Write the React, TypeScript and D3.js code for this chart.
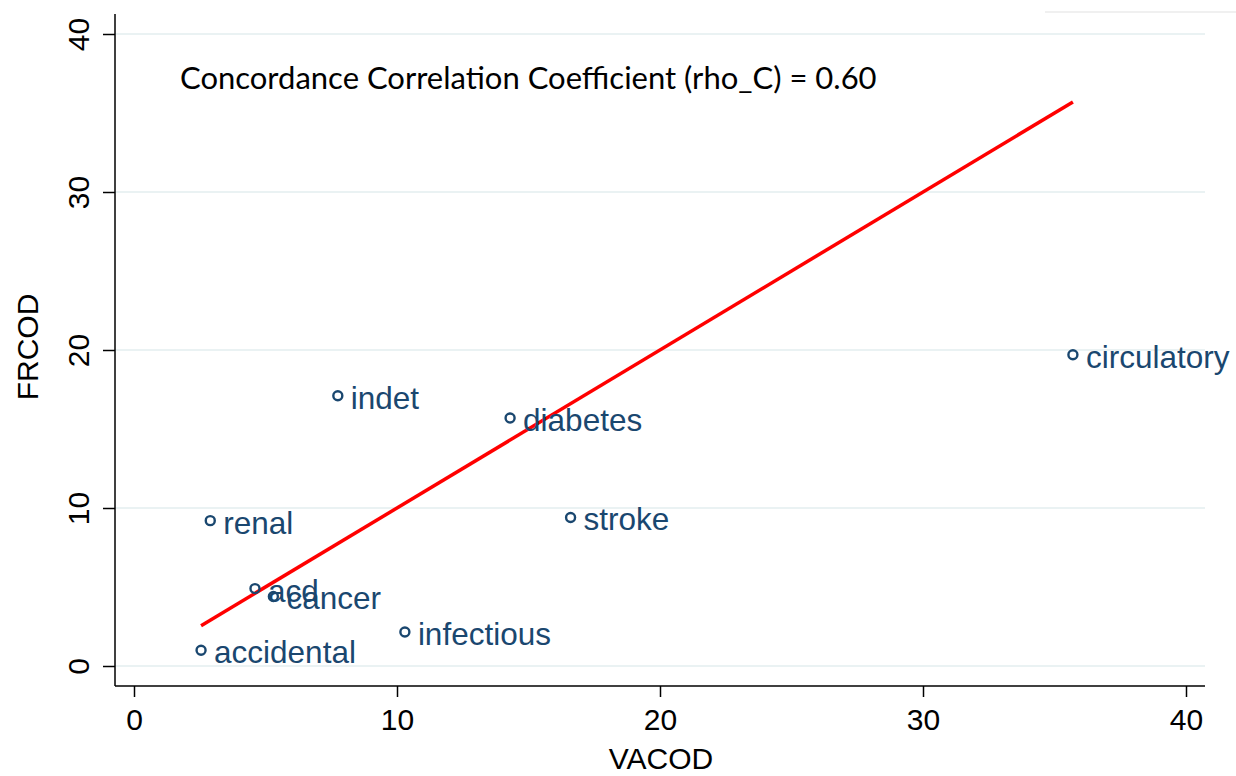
import React, { useRef, useEffect } from 'react';
import { select, scaleLinear, axisBottom, axisLeft, line } from 'd3';

const causes = ['accidental', 'acd', 'cancer', 'renal', 'indet', 'diabetes', 'stroke', 'infectious', 'circulatory'];
const vacod = [2.55, 4.6, 5.3, 2.9, 7.75, 14.3, 16.6, 10.3, 35.7];
const frcod = [1.0, 4.9, 4.4, 9.2, 17.1, 15.7, 9.4, 2.15, 19.7];
const ticks = [0, 10, 20, 30, 40];
const note = 'Concordance Correlation Coefficient (rho_C) = 0.60';

const W = 1236;
const H = 776;
const navy = '#1a476f';
const font = '"Liberation Sans", Arial, sans-serif';

const App = () => {
  const svgRef = useRef(null);

  useEffect(() => {
    const svg = select(svgRef.current);
    svg.selectAll('*').remove();

    const x = scaleLinear().domain([0, 40]).range([134, 1186]);
    const y = scaleLinear().domain([0, 40]).range([666, 34]);
    const left = 115;
    const right = 1205;
    const top = 14;
    const bottom = 686;

    // faint edge at the top right of the original image
    svg
      .append('line')
      .attr('x1', 1045)
      .attr('x2', W)
      .attr('y1', 12)
      .attr('y2', 12)
      .attr('stroke', '#f0f0f0')
      .attr('stroke-width', 2);

    // grid
    svg
      .append('g')
      .selectAll('line')
      .data(ticks)
      .join('line')
      .attr('x1', left)
      .attr('x2', right)
      .attr('y1', (d) => y(d))
      .attr('y2', (d) => y(d))
      .attr('stroke', '#eaf2f3')
      .attr('stroke-width', 2);

    // y axis
    const yAxis = axisLeft(y).tickValues(ticks).tickSize(12).tickSizeOuter(0);
    const gy = svg.append('g').attr('transform', `translate(${left},0)`);
    // @ts-ignore
    gy.call(yAxis);
    gy.select('.domain').remove();
    gy.selectAll('.tick line').attr('stroke', '#000').attr('stroke-width', 1.5);
    gy.selectAll('.tick text')
      .attr('font-size', 30)
      .attr('font-family', font)
      .attr('fill', '#000')
      .attr('text-anchor', 'middle')
      .attr('x', 0)
      .attr('dy', 0)
      .attr('transform', 'translate(-26,0) rotate(-90)');
    gy.append('line')
      .attr('y1', top)
      .attr('y2', bottom)
      .attr('stroke', '#000')
      .attr('stroke-width', 1.5);

    // x axis
    const xAxis = axisBottom(x).tickValues(ticks).tickSize(11).tickSizeOuter(0);
    const gx = svg.append('g').attr('transform', `translate(0,${bottom})`);
    // @ts-ignore
    gx.call(xAxis);
    gx.select('.domain').remove();
    gx.selectAll('.tick line').attr('stroke', '#000').attr('stroke-width', 1.5);
    gx.selectAll('.tick text')
      .attr('font-size', 30)
      .attr('font-family', font)
      .attr('fill', '#000')
      .attr('y', 44)
      .attr('dy', 0);
    gx.append('line')
      .attr('x1', left)
      .attr('x2', right)
      .attr('stroke', '#000')
      .attr('stroke-width', 1.5);

    // axis titles
    svg
      .append('text')
      .attr('x', 661)
      .attr('y', 769)
      .attr('text-anchor', 'middle')
      .attr('font-size', 30)
      .attr('font-family', font)
      .text('VACOD');
    svg
      .append('text')
      .attr('transform', 'translate(38,347) rotate(-90)')
      .attr('text-anchor', 'middle')
      .attr('font-size', 30)
      .attr('font-family', font)
      .text('FRCOD');

    // reference line y = x across the data range
    const lo = Math.min(...vacod);
    const hi = Math.max(...vacod);
    const ref = line<number>()
      .x((d) => x(d))
      .y((d) => y(d));
    svg
      .append('path')
      .attr('d', ref([lo, hi]))
      .attr('fill', 'none')
      .attr('stroke', '#ff0000')
      .attr('stroke-width', 3.5);

    const pts = causes.map((c, i) => ({ c, vx: vacod[i], vy: frcod[i] }));

    svg
      .append('g')
      .selectAll('circle')
      .data(pts)
      .join('circle')
      .attr('cx', (d) => x(d.vx))
      .attr('cy', (d) => y(d.vy))
      .attr('r', 4.5)
      .attr('fill', 'none')
      .attr('stroke', navy)
      .attr('stroke-width', 2.4);

    svg
      .append('g')
      .selectAll('text')
      .data(pts)
      .join('text')
      .attr('x', (d) => x(d.vx) + 13)
      .attr('y', (d) => y(d.vy) + 13)
      .attr('font-size', 31.5)
      .attr('font-family', font)
      .attr('fill', navy)
      .text((d) => d.c);

    svg
      .append('text')
      .attr('x', 180)
      .attr('y', 89)
      .attr('font-size', 31)
      .attr('font-family', 'Lato, "Open Sans", sans-serif')
      .attr('fill', '#000')
      .text(note);
  }, []);

  return (
    <svg
      ref={svgRef}
      width={W}
      height={H}
      style={{ position: 'absolute', left: 0, top: 0, background: '#fff' }}
    />
  );
};

export default App;
